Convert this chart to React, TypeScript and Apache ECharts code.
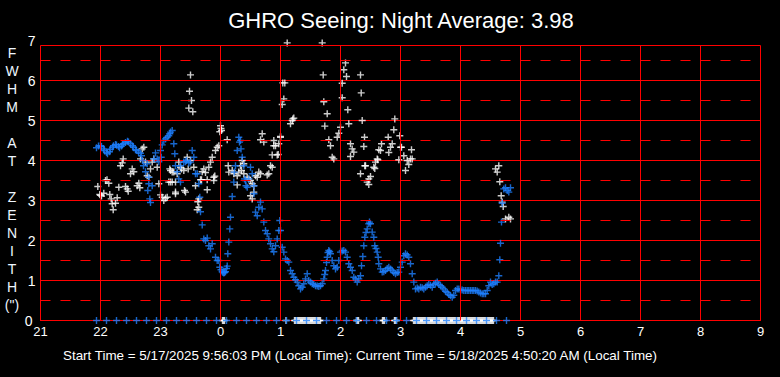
import React, { useEffect, useRef } from 'react';
import * as echarts from 'echarts';

// Time values are minutes after 21:00 (local time); FWHM in arc-seconds.
const blueSeeing: [number, number][] = [
  [56,4.32],[58,4.36],[60,4.37],[61,4.35],[63,4.29],[64,4.25],[66,4.2],[67,4.17],[69,4.22],[70,4.28],[72,4.33],[73,4.37],[75,4.4],[76,4.39],[78,4.35],[79,4.32],[81,4.36],[82,4.4],[83,4.42],[85,4.45],[87,4.48],[88,4.46],[90,4.42],[92,4.37],[93,4.33],[95,4.27],[96,4.25],[98,4.21],[100,4.18],[101,4.12],
  [102,4.0],[103,3.87],[105,3.72],[106.7,3.92],[107.3,3.25],[108.3,3.58],[108.3,3.42],[109.3,3.04],[110,2.95],[111.7,3.37],[113.3,4.04],[115,4.19],[116.7,4.04],[118.3,3.97],[120,4.25],[120.7,4.08],[121.7,4.39],[123.3,4.5],[125,4.54],[126.7,4.58],[128.3,4.62],[129.3,4.67],[130,4.71],[131.7,4.75],[133.3,4.42],[134.3,4.17],[135,3.87],[136.7,3.72],[138.3,3.54],[140,3.46],[140,3.87],[143.3,3.96],[145,3.97],[146,4.0],[148.3,3.94],[150,3.96],[151.7,4.25],[153.3,4.08],[155,3.67],[156.7,3.67],[158.3,3.42],[159.3,3.08],[160,2.72],[161.7,2.39],[163.3,2.04],[165,2.0],[166.7,2.06],[168.3,1.87],[170,1.79],[171.7,1.92],[175,1.58],[176.7,1.5],[178.3,1.5],[179.3,1.33],[180.5,1.27],[181.7,1.22],[182.5,1.2],[183.3,1.19],[184,1.2],[185,1.22],[186,1.3],[186.7,1.36],[187.3,1.67],[188.3,1.96],[189.3,2.29],[190,2.58],[191.7,3.1],[193.3,3.46],[193.8,3.71],[195,3.87],[196.7,4.25],[198.3,4.58],[199,4.46],[200,4.5],[200.5,4.29],[201.7,4.08],[203.3,3.87],[204,3.54],[205,3.5],[205.5,3.37],[206.7,3.33],[208.3,3.54],[210,3.83],[211.7,3.67],[213.3,3.37],[213.5,3.17],[215,2.71],[216.7,2.62],[218.3,2.83],[220,2.96],[221.7,2.79],[223.3,2.46],[225,2.25],[226.7,2.17],[228.3,2.04],[230,1.92],[231.7,1.79],[233.3,1.72],[235,1.87],[236.7,2.04],[238.3,2.25],[239.3,2.5],[240,2.25],[241.7,1.83],[243.3,1.71],[245,1.54],[246.7,1.5],[248.3,1.46],[250,1.25],[251.7,1.17],[253.3,1.08],[255,1.02],[256.7,0.96],[258.3,0.87],[260,0.79],[261.7,0.83],[263.3,0.92],[265,1.04],[266.7,1.17],[268.3,1.0],[270,0.96],[271.7,0.92],[273.3,0.9],[275,0.87],[276.7,0.86],[278.3,0.85],[280,0.87],[281.7,0.92],[283.3,1.04],[284.2,1.15],[285,1.25],[286,1.45],[286.7,1.58],[287.5,1.7],[288.3,1.75],[289.2,1.72],[290,1.67],[291.7,1.5],[293.3,1.37],[295,1.29],[296.7,1.33],[298.3,1.5],[300,1.71],[301.7,1.74],[303.3,1.75],[305,1.71],[306.7,1.58],[308.3,1.42],[310,1.33],[311.7,1.25],[313.3,1.08],[315,1.04],[316.7,0.96],[318.3,1.04],[320,1.12],[321,1.37],[322.3,1.6],[323.3,1.87],[324.3,2.08],[325.5,2.2],[326.7,2.29],[328.3,2.42],[329,2.46],[330,2.42],[331.7,2.21],[333.3,2.08],[334.3,1.87],[335.5,1.8],[336.7,1.71],[337.7,1.58],[338.3,1.42],[340,1.29],[341.7,1.21],[343.3,1.22],[345,1.25],[346.7,1.3],[348.3,1.33],[350,1.29],[351.7,1.25],[353.3,1.2],[355,1.17],[356.7,1.2],[358.3,1.21],[360,1.33],[361.7,1.46],[363.3,1.62],[365,1.67],[366.7,1.64],[368.3,1.58],[370,1.42],[371.7,1.17],[373.3,0.96],[375,0.79],[376.7,0.81],[378.3,0.79],[380,0.83],[381.7,0.82],[383.3,0.79],[385,0.83],[386.7,0.87],[388.3,0.9],[390,0.88],[391.7,0.83],[393.3,0.9],[395,0.93],[396.7,0.96],[398.3,0.9],[400,0.87],[401.7,0.83],[403.3,0.79],[405,0.73],[406.7,0.7],[408.3,0.65],[410,0.62],[411.7,0.58],[413.3,0.63],[415,0.75],[416.7,0.79],[418.3,0.79],[420,0.77],[421.7,0.76],[423.3,0.75],[425,0.75],[426.7,0.75],[428.3,0.75],[430,0.75],[431.7,0.75],[433.3,0.75],[435,0.75],[436.7,0.74],[438.3,0.71],[440,0.69],[441.7,0.67],[443.3,0.67],[445,0.67],[446.7,0.75],[448.3,0.87],[450,0.96],[451.7,0.9],[453.3,0.92],[455,0.96],[456.7,0.96],[458.3,1.12],[459.3,1.52],[460,1.93],[461,2.46],[461.7,2.93],[463.3,3.29],[465,3.32],[466.7,3.25],[468.3,3.21],[470,3.32]
];

const whiteSeeing: [number, number][] = [
  [57.3,3.35],[59.3,3.15],[60,3.13],[61,3.11],[63.3,3.18],[65,3.5],[66.5,3.52],[68.3,3.43],[69.3,3.15],[70.7,3.04],[71.7,2.92],[72.7,2.77],[75,2.93],[76.7,3.07],[78.3,3.33],[80,3.87],[81.7,3.94],[82.7,4.04],[85,3.35],[86.7,3.29],[87.7,3.23],[90,3.67],[91.7,3.79],[93.3,3.72],[96.7,3.37],[98.3,3.43],[99.3,3.32],
  [100,4.04],[101.7,4.29],[103.3,4.33],[105,3.96],[106.7,3.62],[108.3,3.58],[110,3.79],[111.7,3.96],[113.3,4.04],[116.7,3.83],[118.3,3.42],[120,3.14],[121.7,3.08],[123.3,3.0],[125,3.06],[126.7,3.08],[128.3,3.46],[129.3,3.79],
  [130,3.75],[130,3.46],[131.7,3.71],[131.7,3.46],[133.3,3.71],[135,3.46],[135,3.21],[135,3.17],[136.7,3.67],[138.3,3.96],[140,3.83],[141,3.79],[143.3,3.75],[144,3.25],[145,3.21],[146.7,4.08],[147.7,3.79],[148.3,5.31],[149,5.73],[150,6.14],[150,4.0],[151,5.5],[152.3,5.22],[153.3,3.83],[155,3.37],[156.7,2.77],[157.3,2.97],[158.3,2.83],[158.3,3.04],[160,3.52],[161,3.52],
  [161.7,3.72],[163.3,3.79],[165,3.7],[166.7,3.52],[166.7,3.27],[168.3,3.83],[170,3.96],[171.7,4.08],[173.3,3.5],[173.3,3.58],[174.3,3.61],[175,4.25],[176.7,4.33],[178.3,4.37],[179.3,4.72],[180,4.87],[180.5,4.8],[181,4.75],[186.7,4.52],[187.7,3.87],[188.3,3.71],[191.7,3.75],[193.3,3.67],[196.7,3.39],[196.7,3.62],[198.3,3.71],[200,3.87],[201,3.75],[201.7,4.0],[203.3,3.67],[203.3,3.92],[206.7,3.58],[208.3,3.54],[210,3.5],[210,3.12],[211.7,3.04],[211.7,3.42],[213.3,3.37],[213.3,3.21],[215,3.62],[216.7,3.58],[218.3,3.71],[220,3.67],
  [220,4.52],[221.7,4.67],[223.3,4.46],[226.7,3.64],[228.3,3.67],[230,3.87],[231.7,3.83],[231.7,4.14],[233.3,4.5],[233.3,4.37],[235,4.37],[236.7,4.14],[237.7,4.15],[238.3,4.42],[240,4.58],[240,4.6],[241.7,5.4],[242.3,5.94],[243.3,5.54],[244.3,5.94],[246.7,6.94],[250,4.92],[251.7,5.0],[252.3,5.04],[253.3,5.06],
  [281.7,6.94],[282.7,6.14],[283.3,5.47],[284.3,4.86],[286.7,5.17],[288.3,4.52],[290,4.37],[291.7,4.08],[293.3,4.04],[296.7,4.58],[298.3,4.68],[300,4.83],[301.7,5.57],[301.7,5.93],[303.3,6.27],[305,6.44],[306,6.1],[307.3,5.27],[308.3,4.92],[310,4.42],[310,4.1],[311.7,4.29],[313.3,4.21],[320,6.14],[320.7,5.69],[321.7,5.0],[320,3.67],[323.3,4.35],[324,4.58],[324.3,3.87],[325,3.87],
  [326.7,3.46],[328.3,3.54],[328.3,3.4],[330,3.6],[333.3,3.83],[334.3,3.8],[335,3.96],[336.7,4.04],[337.3,4.02],[338.3,4.27],[340,4.25],[341,4.42],[347.7,4.58],[348.3,4.2],[350,4.33],[351.7,4.42],[353.3,4.77],[354.3,5.04],[358.3,4.02],[359.3,4.62],[360,4.33],[361,4.33],[363.3,4.12],[365,3.75],[366.7,4.0],[368.3,3.9],[370,4.04],[371,4.27],[371.7,4.04],
  [455,3.79],[456.7,3.71],[458.3,3.87],[459.3,3.47],[460.7,3.12],[461.7,2.96],[462.7,2.85],[465,2.54],[468.3,2.58],[470,2.54]
];

// Readings recorded as zero (plotted on the baseline)
const whiteZeroMinutes: number[] = [
  182,183,184,245.5,
  254,255,256,257,258,259,260,261,262,263,264,265,266,267,268,269,270,271,272,273,274,275,276,277,278,279,280,
  316,317,318,342,343,344,354,355,356,
  373,374,375,376,377,378,379,380,381,382,383,384,385,386,387,388,389,390,391,392,393,394,395,396,397,398,399,400,
  401,402,403,404,405,406,407,408,409,410,411,412,413,414,415,416,417,418,419,420,421,422,423,424,425,426,427,428,429,430,
  431,432,433,434,435,436,437,438,439,440,441,442,443,444,445,446,447,448,449,450,451,452,453
];
const blueZeroMinutes: number[] = [
  56,66,76,86,96,106,116,126,136,146,156,166,176,186,196,206,216,226,236,246,256,266,276,286,296,306,316,326,336,346,356,366,376,386,396,406,416,426,436,446,456,466
];

const xHours: number[] = [21,22,23,24,25,26,27,28,29,30,31,32,33];
const halfLevels: number[] = [0.5,1.5,2.5,3.5,4.5,5.5,6.5];
const frameTop = 6.875;

const titleText = 'GHRO Seeing: Night Average: 3.98';
const footerText = 'Start Time = 5/17/2025 9:56:03 PM (Local Time): Current Time = 5/18/2025 4:50:20 AM (Local Time)';
const yTitle = 'F\nW\nH\nM\n\nA\nT\n\nZ\nE\nN\nI\nT\nH\n(")';

const RED = '#ff0000';
const BLUE = '#1e7fff';
const FONT = '"Liberation Sans", Arial, sans-serif';
const PLUS = 'path://M2.8,0H4.2V2.8H7V4.2H4.2V7H2.8V4.2H0V2.8H2.8Z';

const toHour = (m: number) => 21 + m / 60;

export default function App() {
  const ref = useRef<HTMLDivElement>(null);
  useEffect(() => {
    document.body.style.margin = '0';
    document.body.style.background = '#000';
    const chart = echarts.init(ref.current!, null, { renderer: 'svg' });

    const markData: any[] = [];
    halfLevels.forEach((v) => markData.push({ yAxis: v, lineStyle: { color: RED, width: 1, type: [10, 10] } }));
    markData.push({ yAxis: frameTop, lineStyle: { color: RED, width: 1, type: 'solid' } });
    xHours.forEach((h) =>
      markData.push([
        { coord: [h, 0], lineStyle: { color: RED, width: 1, type: 'solid' } },
        { coord: [h, frameTop] },
      ])
    );

    const scatterBase = {
      type: 'scatter',
      symbol: PLUS,
      symbolSize: 7,
      clip: false,
      silent: true,
      z: 3,
    };

    chart.setOption({
      animation: false,
      backgroundColor: '#000',
      grid: { left: 40.5, right: 19.5, top: 40.5, bottom: 56.5, containLabel: false },
      xAxis: {
        type: 'value',
        min: 21,
        max: 33,
        interval: 1,
        axisLine: { show: true, lineStyle: { color: RED, width: 1 } },
        axisTick: { show: false },
        splitLine: { show: false },
        axisLabel: {
          color: '#fff',
          fontSize: 13,
          fontFamily: FONT,
          margin: 4,
          formatter: (v: number) => String(v % 24),
        },
      },
      yAxis: {
        type: 'value',
        min: 0,
        max: 7,
        interval: 1,
        axisLine: { show: false },
        axisTick: { show: false },
        splitLine: { show: true, showMaxLine: false, lineStyle: { color: RED, width: 1 } },
        axisLabel: {
          color: '#fff',
          fontSize: 14,
          fontFamily: FONT,
          margin: 5,
          formatter: (v: number) => (v === 0 ? '{z|0}' : String(v)),
          rich: { z: { color: '#fff', fontSize: 14, fontFamily: FONT, padding: [0, 3, 0, 0] } },
        },
      },
      graphic: [
        {
          type: 'text',
          x: 401,
          y: 20,
          style: { text: titleText, fill: '#fff', font: `22px ${FONT}`, textAlign: 'center', textVerticalAlign: 'middle' },
        },
        {
          type: 'text',
          x: 63,
          y: 355,
          style: { text: footerText, fill: '#fff', font: `13.4px ${FONT}`, textAlign: 'left', textVerticalAlign: 'middle' },
        },
        {
          type: 'text',
          x: 12,
          y: 44,
          style: { text: yTitle, fill: '#eef6ff', font: `14px ${FONT}`, lineHeight: 18, textAlign: 'center', textVerticalAlign: 'top' },
        },
      ],
      series: [
        {
          type: 'line',
          data: [],
          z: 1,
          silent: true,
          markLine: { silent: true, symbol: ['none', 'none'], label: { show: false }, animation: false, data: markData },
        },
        { ...scatterBase, data: whiteZeroMinutes.map((m) => [toHour(m), 0]), itemStyle: { color: '#fff' } },
        { ...scatterBase, data: whiteSeeing.map(([m, v]) => [toHour(m), v]), itemStyle: { color: '#fff' } },
        { ...scatterBase, data: blueSeeing.map(([m, v]) => [toHour(m), v]), itemStyle: { color: BLUE } },
        { ...scatterBase, data: blueZeroMinutes.map((m) => [toHour(m), 0]), itemStyle: { color: BLUE }, z: 4 },
      ],
    });
    return () => chart.dispose();
  }, []);
  return <div ref={ref} style={{ width: 780, height: 377, background: '#000' }} />;
}
